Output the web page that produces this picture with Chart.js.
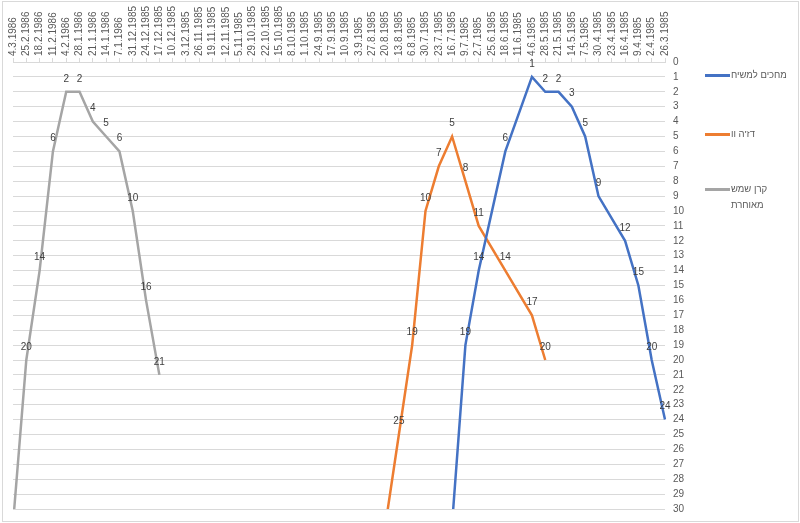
<!DOCTYPE html>
<html lang="he">
<head>
<meta charset="utf-8">
<title>מצעד שבועי</title>
<script src="https://cdn.jsdelivr.net/npm/chart.js@4.4.0/dist/chart.umd.min.js"></script>
<style>
  html, body { margin: 0; padding: 0; background: #fff; }
  #wrap { position: relative; width: 800px; height: 523px; }
  #frame { position: absolute; left: 2px; top: 1px; width: 795px; height: 519px; border: 1px solid #d9d9d9; pointer-events: none; }
  .legend-item { position: absolute; left: 705px; font-family: 'Liberation Sans', Arial, sans-serif; font-size: 9.5px; color: #595959; }
  .legend-item .swatch { position: absolute; left: 0; width: 25px; height: 3px; }
  .legend-item .text { position: absolute; left: 26px; width: 60px; line-height: 16px; direction: rtl; text-align: left; white-space: nowrap; }
</style>
</head>
<body>
<div id="wrap">
  <canvas id="chart" width="800" height="523"></canvas>
  <div id="legend"></div>
  <div id="frame"></div>
</div>
<script>
// שבועות (מהישן לחדש) - הציר מוצג הפוך
const weeks = [
  '26.3.1985', '2.4.1985', '9.4.1985', '16.4.1985', '23.4.1985', '30.4.1985', '7.5.1985',
  '14.5.1985', '21.5.1985', '28.5.1985', '4.6.1985', '11.6.1985', '18.6.1985', '25.6.1985',
  '2.7.1985', '9.7.1985', '16.7.1985', '23.7.1985', '30.7.1985', '6.8.1985', '13.8.1985',
  '20.8.1985', '27.8.1985', '3.9.1985', '10.9.1985', '17.9.1985', '24.9.1985', '1.10.1985',
  '8.10.1985', '15.10.1985', '22.10.1985', '29.10.1985', '5.11.1985', '12.11.1985', '19.11.1985',
  '26.11.1985', '3.12.1985', '10.12.1985', '17.12.1985', '24.12.1985', '31.12.1985', '7.1.1986',
  '14.1.1986', '21.1.1986', '28.1.1986', '4.2.1986', '11.2.1986', '18.2.1986', '25.2.1986', '4.3.1986'
];

// מיקום במצעד לכל שבוע (null = אין נתון)
const mechakimLamashiach = [
  24, 20, 15, 12, null, 9, 5, 3, 2, 2, 1, null, 6, null, 14, 19, 31,
  null, null, null, null, null, null, null, null, null, null, null, null, null, null, null, null,
  null, null, null, null, null, null, null, null, null, null, null, null, null, null, null, null, null
];
const dejaVu = [
  null, null, null, null, null, null, null, null, null, 20, 17, null, 14, null, 11, 8, 5,
  7, 10, 19, 25, 31, null, null, null, null, null, null, null, null, null, null, null,
  null, null, null, null, null, null, null, null, null, null, null, null, null, null, null, null, null
];
const keren = [
  null, null, null, null, null, null, null, null, null, null, null, null, null, null, null, null, null,
  null, null, null, null, null, null, null, null, null, null, null, null, null, null, null, null,
  null, null, null, null, null, 21, 16, 10, 6, 5, 4, 2, 2, 6, 14, 20, 31
];

const seriesNames = ['מחכים למשיח', 'דז\'ה וו', ['קרן שמש', 'מאוחרת']];
const seriesColors = ['#4472C4', '#ED7D31', '#A5A5A5'];
const yMax = 30;

Chart.defaults.font.family = "'Liberation Sans', Arial, sans-serif";

// תוויות נתונים מעל כל נקודה
const pointLabels = {
  id: 'pointLabels',
  afterDatasetsDraw(chart) {
    const ctx = chart.ctx;
    ctx.save();
    ctx.font = "10px 'Liberation Sans', Arial, sans-serif";
    ctx.fillStyle = '#404040';
    ctx.textAlign = 'center';
    ctx.textBaseline = 'middle';
    chart.data.datasets.forEach((ds, i) => {
      const meta = chart.getDatasetMeta(i);
      meta.data.forEach((pt, j) => {
        const v = ds.data[j];
        if (v === null || v > yMax) return;
        ctx.fillText(String(v), pt.x, pt.y - 13);
      });
    });
    ctx.restore();
  }
};

const ctx = document.getElementById('chart').getContext('2d');
const chart = new Chart(ctx, {
  type: 'line',
  data: {
    labels: weeks,
    datasets: [
      { label: 'מחכים למשיח', data: mechakimLamashiach, borderColor: seriesColors[0] },
      { label: 'דז\'ה וו', data: dejaVu, borderColor: seriesColors[1] },
      { label: 'קרן שמש מאוחרת', data: keren, borderColor: seriesColors[2] }
    ].map(d => Object.assign(d, {
      borderWidth: 2.5,
      pointRadius: 0,
      tension: 0,
      spanGaps: true,
      fill: false
    }))
  },
  options: {
    responsive: false,
    animation: false,
    layout: { padding: { left: 13, right: 105, top: 0, bottom: 13 } },
    plugins: {
      legend: { display: false },
      tooltip: { enabled: false }
    },
    scales: {
      x: {
        position: 'top',
        reverse: true,
        offset: false,
        grid: { drawOnChartArea: false, drawTicks: true, tickLength: 4, color: '#d9d9d9' },
        border: { display: true, color: '#d9d9d9' },
        ticks: {
          autoSkip: false,
          minRotation: 90,
          maxRotation: 90,
          labelOffset: 12,
          padding: 2,
          color: '#595959',
          font: { size: 10 }
        },
        afterFit(scale) { scale.height = 62; }
      },
      y: {
        position: 'right',
        reverse: true,
        min: 0,
        max: yMax,
        grid: { color: '#d9d9d9', drawTicks: false },
        border: { display: false },
        ticks: { stepSize: 1, autoSkip: false, padding: 8, color: '#595959', font: { size: 10 } },
        afterFit(scale) { scale.width = 30; }
      }
    }
  },
  plugins: [pointLabels]
});

// מקרא בצד ימין
const legendTops = [75, 134, 189];
const legendEl = document.getElementById('legend');
seriesNames.forEach((name, i) => {
  const item = document.createElement('div');
  item.className = 'legend-item';
  item.style.top = legendTops[i] + 'px';
  const sw = document.createElement('div');
  sw.className = 'swatch';
  sw.style.background = seriesColors[i];
  sw.style.top = '-1px';
  const txt = document.createElement('div');
  txt.className = 'text';
  txt.style.top = '-8px';
  txt.innerHTML = Array.isArray(name) ? name.join('<br>') : name;
  item.appendChild(sw);
  item.appendChild(txt);
  legendEl.appendChild(item);
});
</script>
</body>
</html>
